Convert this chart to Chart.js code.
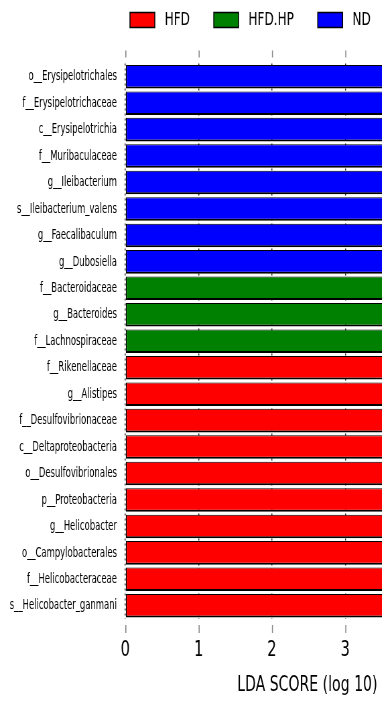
<!DOCTYPE html>
<html>
<head>
<meta charset="utf-8">
<script src="https://cdn.jsdelivr.net/npm/chart.js@4/dist/chart.umd.min.js"></script>
<style>
  html, body { margin: 0; padding: 0; background: #fff; overflow: hidden; width: 382px; height: 701px; }
  /* the chart is laid out wide and squeezed horizontally for narrow, condensed lettering */
  #wrap { width: 570px; height: 701px; transform: scaleX(0.67); transform-origin: 0 0; }
</style>
</head>
<body>
<div id="wrap"><canvas id="c" width="570" height="701"></canvas></div>
<script>
// Taxa, top to bottom
const taxa = [
  'o__Erysipelotrichales', 'f__Erysipelotrichaceae', 'c__Erysipelotrichia', 'f__Muribaculaceae',
  'g__Ileibacterium', 's__Ileibacterium_valens', 'g__Faecalibaculum', 'g__Dubosiella',
  'f__Bacteroidaceae', 'g__Bacteroides', 'f__Lachnospiraceae',
  'f__Rikenellaceae', 'g__Alistipes', 'f__Desulfovibrionaceae', 'c__Deltaproteobacteria',
  'o__Desulfovibrionales', 'p__Proteobacteria', 'g__Helicobacter', 'o__Campylobacterales',
  'f__Helicobacteraceae', 's__Helicobacter_ganmani'
];
// Group in which each taxon is enriched
const enrichedIn = [
  'ND', 'ND', 'ND', 'ND', 'ND', 'ND', 'ND', 'ND',
  'HFD.HP', 'HFD.HP', 'HFD.HP',
  'HFD', 'HFD', 'HFD', 'HFD', 'HFD', 'HFD', 'HFD', 'HFD', 'HFD', 'HFD'
];
// LDA scores (log 10)
const ldaScores = [
  5.02, 5.01, 5.01, 4.98, 4.87, 4.86, 4.74, 4.70,
  4.63, 4.61, 4.48,
  4.42, 4.42, 4.38, 4.32, 4.32, 4.32, 4.27, 4.27, 4.27, 4.26
];
const groupNames = ['HFD', 'HFD.HP', 'ND'];
const groupColors = ['#ff0000', '#008000', '#0000ff'];
const tickValues = [0, 1, 2, 3];
const axisMax = 3.5;

Chart.defaults.font.family = '"DejaVu Sans", sans-serif';
Chart.defaults.color = '#000';

const datasets = groupNames.map((g, gi) => ({
  label: g,
  data: ldaScores.map((v, i) => enrichedIn[i] === g ? v : null),
  backgroundColor: groupColors[gi],
  borderColor: '#000',
  borderWidth: { top: 1, bottom: 2, left: 1.5, right: 0 },
  borderSkipped: false,
  grouped: false,
  barPercentage: 0.89,
  categoryPercentage: 1
}));

// Short grey tick marks set slightly apart from the plot, above and below
const outerTicks = {
  id: 'outerTicks',
  afterDraw(chart) {
    const { ctx, chartArea, scales } = chart;
    const x = scales.x;
    ctx.save();
    ctx.strokeStyle = '#8a8a8a';
    ctx.lineWidth = 1.6;
    tickValues.forEach(v => {
      const px = x.getPixelForValue(v) + 0.8;
      ctx.beginPath();
      ctx.moveTo(px, chartArea.top - 13);
      ctx.lineTo(px, chartArea.top - 6);
      ctx.moveTo(px, chartArea.bottom + 6);
      ctx.lineTo(px, chartArea.bottom + 14);
      ctx.stroke();
    });
    ctx.restore();
  }
};

new Chart(document.getElementById('c'), {
  type: 'bar',
  data: { labels: taxa, datasets },
  plugins: [outerTicks],
  options: {
    indexAxis: 'y',
    responsive: false,
    animation: false,
    devicePixelRatio: 1,
    layout: { padding: { top: 4, left: 0, right: 0, bottom: 0 } },
    plugins: {
      tooltip: { enabled: false },
      legend: {
        position: 'top',
        align: 'start',
        fullSize: false,
        labels: {
          boxWidth: 37,
          boxHeight: 15,
          padding: 7,
          font: { size: 18 },
          color: '#000',
          generateLabels: chart => chart.data.datasets.map((ds, i, arr) => ({
            text: ' ' + ds.label + (i < arr.length - 1 ? '     ' : ''),
            fillStyle: ds.backgroundColor,
            strokeStyle: '#000',
            lineWidth: 1.5,
            hidden: false,
            datasetIndex: i,
            fontColor: '#000'
          }))
        }
      }
    },
    scales: {
      x: {
        type: 'linear',
        position: 'bottom',
        min: 0,
        max: axisMax,
        z: 1,
        afterBuildTicks: s => { s.ticks = tickValues.map(v => ({ value: v })); },
        afterFit: s => { s.height = 82; },
        grid: { color: 'rgba(0,0,0,0.85)', lineWidth: 1.5, drawTicks: false },
        border: { display: false, dash: [2, 3] },
        ticks: { font: { size: 22 }, color: '#000', padding: 18 },
        title: {
          display: true,
          text: 'LDA SCORE (log 10) ',
          align: 'end',
          color: '#000',
          font: { size: 21 },
          padding: { top: 0, bottom: 3 }
        }
      },
      xTop: {
        type: 'linear',
        position: 'top',
        display: true,
        afterFit: s => { s.height = 24.5; },
        grid: { display: false },
        border: { display: false },
        ticks: { display: false }
      },
      y: {
        type: 'category',
        afterFit: s => { s.width = 187; },
        grid: { display: false, drawTicks: false },
        border: { display: false },
        ticks: {
          font: { size: 14, family: '"DejaVu Sans Condensed", "DejaVu Sans", sans-serif' },
          color: '#000', padding: 12.5, autoSkip: false
        }
      }
    }
  }
});
</script>
</body>
</html>
